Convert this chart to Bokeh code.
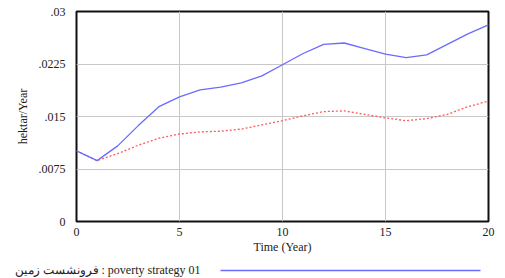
from bokeh.plotting import figure
from bokeh.models import FixedTicker, Range1d
from bokeh.layouts import column
from bokeh.core.properties import value
from bokeh.embed import file_html
from bokeh.resources import INLINE

years = list(range(0, 21))
poverty_01 = [0.0101, 0.0087, 0.0108, 0.0137, 0.0164, 0.0178, 0.0188, 0.0192, 0.0198, 0.0208,
              0.0224, 0.0240, 0.0253, 0.0255, 0.0247, 0.0239, 0.0234, 0.0238, 0.0253, 0.0268, 0.0281]
second_run = [0.0101, 0.0087, 0.0097, 0.0109, 0.0119, 0.0125, 0.0128, 0.0129, 0.0132, 0.0138,
              0.0144, 0.0151, 0.0157, 0.0158, 0.0153, 0.0148, 0.0144, 0.0147, 0.0153, 0.0164, 0.0172]
y_ticks = [0, 0.0075, 0.015, 0.0225, 0.03]
y_tick_labels = ["0", ".0075", ".015", ".0225", ".03"]
x_ticks = [0, 5, 10, 15, 20]
legend_text = "فرونشست زمین : poverty strategy 01"

FONT = "Liberation Serif"
BLUE = "#6b6bff"
RED = "#ff5a5a"
TXT = "#222222"
FS = "12px"

p = figure(width=505, height=258, output_backend="svg", toolbar_location=None,
           x_range=Range1d(0, 20), y_range=Range1d(0, 0.03),
           min_border_left=76, min_border_right=17, min_border_top=11, min_border_bottom=37)
p.frame_align = False

p.outline_line_color = "#111111"
p.outline_line_width = 2
p.background_fill_color = "white"
p.border_fill_color = "white"

p.xaxis.ticker = FixedTicker(ticks=x_ticks)
p.yaxis.ticker = FixedTicker(ticks=y_ticks)
p.yaxis.major_label_overrides = {t: l for t, l in zip(y_ticks, y_tick_labels)}
for ax in (p.xaxis, p.yaxis):
    ax.axis_line_color = None
    ax.major_tick_line_color = None
    ax.minor_tick_line_color = None
    ax.major_tick_out = 0
    ax.major_tick_in = 0
    ax.minor_tick_out = 0
    ax.major_label_text_font = FONT
    ax.major_label_text_font_size = FS
    ax.major_label_text_color = TXT
    ax.axis_label_text_font = FONT
    ax.axis_label_text_font_size = FS
    ax.axis_label_text_font_style = "normal"
    ax.axis_label_text_color = TXT
p.xaxis.axis_label = "Time (Year)"
p.yaxis.axis_label = "hektar/Year"
p.xaxis.major_label_standoff = 6
p.xaxis.axis_label_standoff = 1
p.yaxis.major_label_standoff = 11
p.yaxis.axis_label_standoff = 6

p.xgrid.grid_line_color = "#c8c8c8"
p.ygrid.grid_line_color = "#c8c8c8"
p.xgrid.grid_line_width = 1
p.ygrid.grid_line_width = 1

p.line(years, second_run, line_color=RED, line_width=1.3, line_dash="2 2")
p.line(years, poverty_01, line_color=BLUE, line_width=1.3)

# legend row (own frame spanning the full width)
leg = figure(width=505, height=20, output_backend="svg", toolbar_location=None,
             x_range=Range1d(0, 505), y_range=Range1d(0, 20),
             min_border=0, min_border_left=0, min_border_right=0,
             min_border_top=0, min_border_bottom=0)
leg.frame_align = False
leg.xaxis.visible = False
leg.yaxis.visible = False
leg.xgrid.visible = False
leg.ygrid.visible = False
leg.outline_line_color = None
leg.text(x=[200], y=[9], text=[legend_text], text_font=value(FONT), text_font_size=FS,
         text_color=TXT, text_align="right", text_baseline="middle")
leg.line(x=[220, 480], y=[8, 8], line_color=BLUE, line_width=1.3)

layout = column(p, leg, spacing=0)
open("out.html", "w").write(file_html(layout, INLINE))
